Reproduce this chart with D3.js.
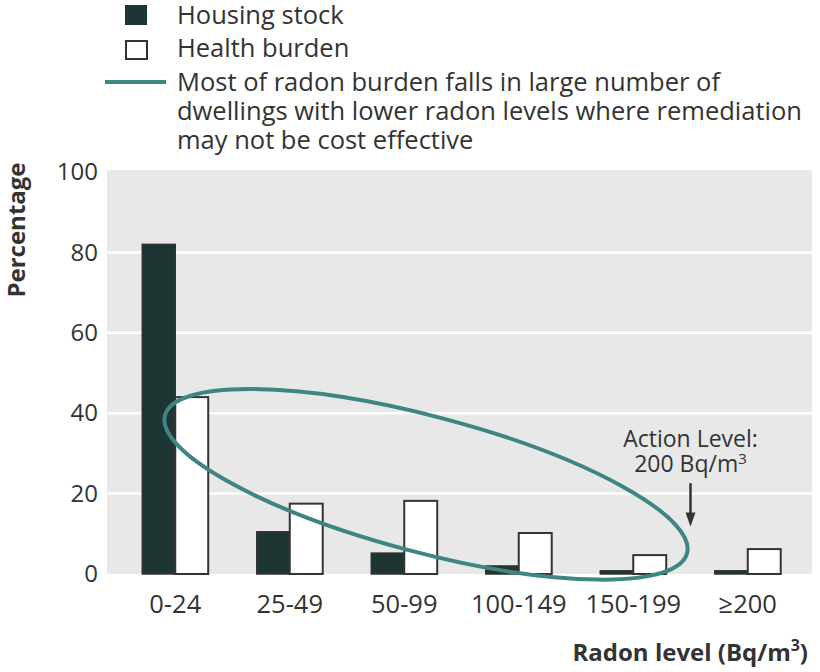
<!DOCTYPE html>
<html><head><meta charset="utf-8">
<script src="https://cdn.jsdelivr.net/npm/d3@7"></script>
<style>
body{margin:0;background:#fff;}
svg text{font-family:"Open Sans","Noto Sans",sans-serif;fill:#333;}
</style></head>
<body><svg id="c" width="820" height="672"></svg>
<script>
const categories = ["0-24","25-49","50-99","100-149","150-199","\u2265200"];
const housingStock = [82, 10.5, 5.2, 2, 0.8, 0.8];
const healthBurden = [44, 17.5, 18.2, 10.2, 4.7, 6.2];
const yTicks = [0,20,40,60,80,100];
const seriesNames = ["Housing stock","Health burden"];
const ellipseNote = ["Most of radon burden falls in large number of","dwellings with lower radon levels where remediation","may not be cost effective"];
// annotation: ellipse centre given in category-index / percentage units
const ellipseCentre = {idx: 2.19, val: 22.3};
const actionLevel = {idx: 4.5, from: 22.6, to: 11.8, label: ["Action Level:", "200 Bq/m"]};

const FONT = "'Open Sans','Noto Sans',sans-serif";
const svg = d3.select("#c");
const plot = {left:107, right:812, top:170, bottom:574};
const y = d3.scaleLinear().domain([0,100]).range([574,172]);
const x = d3.scaleBand().domain(categories).range([118,805]).paddingInner(0.424).paddingOuter(0.212);
const xi = d3.scaleLinear().domain([0,1]).range([x(categories[0])+x.bandwidth()/2, x(categories[1])+x.bandwidth()/2]);
const xs = d3.scaleBand().domain(seriesNames).range([0,x.bandwidth()]);
const dark = "#1e3633", teal = "#3d8683", edge = "#333";

svg.append("rect").attr("x",plot.left).attr("y",plot.top).attr("width",plot.right-plot.left).attr("height",plot.bottom-plot.top).attr("fill","#e8e8e8");
svg.append("g").selectAll("line").data(yTicks.filter(d=>d>0&&d<100)).join("line")
  .attr("x1",plot.left).attr("x2",plot.right).attr("y1",d=>y(d)).attr("y2",d=>y(d))
  .attr("stroke","#fff").attr("stroke-width",2.5);

// y axis labels
const ya = svg.append("g").attr("transform",`translate(${plot.left},0)`).call(d3.axisLeft(y).tickValues(yTicks).tickSize(0).tickPadding(9));
ya.select(".domain").remove();
ya.selectAll("text").attr("font-size",24).attr("fill","#333").attr("font-family",FONT);

// x axis labels
const xa = svg.append("g").attr("transform",`translate(0,${plot.bottom})`).call(d3.axisBottom(x).tickSize(0).tickPadding(21));
xa.select(".domain").remove();
xa.selectAll("text").attr("font-size",25.5).attr("fill","#333").attr("font-family",FONT);

// bars
const g = svg.append("g");
categories.forEach((c,i)=>{
  g.append("rect").attr("x",x(c)+xs(seriesNames[0])).attr("y",y(housingStock[i])).attr("width",xs.bandwidth()).attr("height",y(0)-y(housingStock[i]))
   .attr("fill",dark).attr("stroke",edge).attr("stroke-width",1.5);
  g.append("rect").attr("x",x(c)+xs(seriesNames[1])).attr("y",y(healthBurden[i])).attr("width",xs.bandwidth()).attr("height",y(0)-y(healthBurden[i]))
   .attr("fill","#fff").attr("stroke",edge).attr("stroke-width",2);
});

// ellipse
svg.append("ellipse").attr("cx",0).attr("cy",0).attr("rx",270).attr("ry",68)
  .attr("transform",`translate(${xi(ellipseCentre.idx)},${y(ellipseCentre.val)}) rotate(14.8)`)
  .attr("fill","none").attr("stroke",teal).attr("stroke-width",4);

// action level
const ax = xi(actionLevel.idx);
svg.append("line").attr("x1",ax).attr("x2",ax).attr("y1",y(actionLevel.from)).attr("y2",y(actionLevel.to)-12).attr("stroke","#333").attr("stroke-width",2.5);
svg.append("path").attr("d",`M${ax-5},${y(actionLevel.to)-14}L${ax+5},${y(actionLevel.to)-14}L${ax},${y(actionLevel.to)}Z`).attr("fill","#333");
const at = svg.append("text").attr("text-anchor","middle").attr("font-size",23);
at.append("tspan").attr("x",ax).attr("y",447).text(actionLevel.label[0]);
const l2 = at.append("tspan").attr("x",ax).attr("y",472);
l2.append("tspan").text(actionLevel.label[1]);
l2.append("tspan").attr("dy",-8).attr("font-size",15).text("3");

// axis titles
svg.append("text").attr("transform","translate(25,230) rotate(-90)").attr("text-anchor","middle").attr("font-size",24).attr("font-weight","bold").text("Percentage");
const xt = svg.append("text").attr("x",808).attr("y",661).attr("text-anchor","end").attr("font-size",24).attr("font-weight","bold");
xt.append("tspan").text("Radon level (Bq/m");
xt.append("tspan").attr("dy",-10).attr("font-size",16).text("3");
xt.append("tspan").attr("dy",10).text(")");

// legend
const lg = svg.append("g");
lg.append("rect").attr("x",125).attr("y",5).attr("width",22).attr("height",20).attr("fill",dark);
lg.append("rect").attr("x",126).attr("y",41).attr("width",21).attr("height",18).attr("fill","#fff").attr("stroke","#333").attr("stroke-width",2);
lg.append("line").attr("x1",105).attr("x2",166).attr("y1",82).attr("y2",82).attr("stroke",teal).attr("stroke-width",4);
lg.append("text").attr("x",177).attr("y",24).attr("font-size",25.5).text(seriesNames[0]);
lg.append("text").attr("x",177).attr("y",57).attr("font-size",25.5).text(seriesNames[1]);
lg.append("text").attr("font-size",25.5).selectAll("tspan").data(ellipseNote).join("tspan")
  .attr("x",177).attr("y",(d,i)=>91+i*29).text(d=>d);
</script></body></html>
